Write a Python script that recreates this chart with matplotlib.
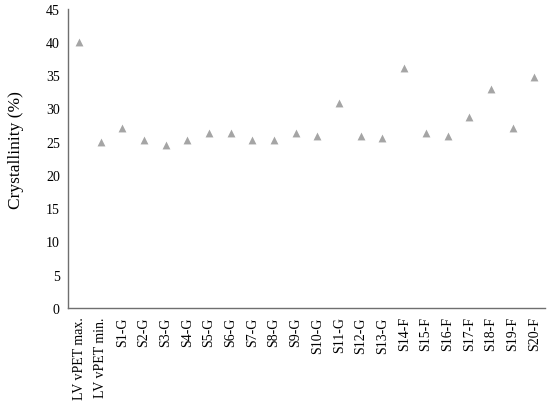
import matplotlib
matplotlib.use("Agg")
from matplotlib import pyplot as plt

samples = ["LV vPET max.", "LV vPET min."] + \
    [f"S{i}-G" for i in range(1, 14)] + [f"S{i}-F" for i in range(14, 21)]
crystallinity = [40.0, 25.0, 27.0, 25.3, 24.5, 25.3, 26.3, 26.3, 25.2, 25.2,
                 26.3, 25.8, 30.9, 25.8, 25.6, 36.1, 26.3, 25.8, 28.7, 33.0,
                 27.0, 34.7]
y_ticks = list(range(0, 50, 5))

plt.rcParams['font.family'] = ['Liberation Serif', 'DejaVu Serif']

fig = plt.figure(figsize=(5.5, 4.06), dpi=100)
ax = fig.add_axes([0.124, 0.239, 0.867, 0.737])

x = list(range(len(samples)))
ax.scatter(x, crystallinity, marker='^', s=32, color='#a5a5a5', linewidths=0)

ax.set_xlim(-0.5, len(samples) - 0.5)
ax.set_ylim(0, 45)
ax.set_yticks(y_ticks)
ax.set_xticks(x)
ax.set_xticklabels(samples, rotation=90, fontsize=10)
ax.tick_params(axis='y', labelsize=10, length=0, pad=6)
ax.tick_params(axis='x', length=0, pad=6)
ax.set_ylabel("Crystallinity (%)", fontsize=12.5)
ax.yaxis.set_label_coords(-0.092, 0.53)

for side in ['top', 'right']:
    ax.spines[side].set_visible(False)
for side in ['left', 'bottom']:
    ax.spines[side].set_color('#6f6f6f')
    ax.spines[side].set_linewidth(1)

fig.savefig("out.png", dpi=100)
